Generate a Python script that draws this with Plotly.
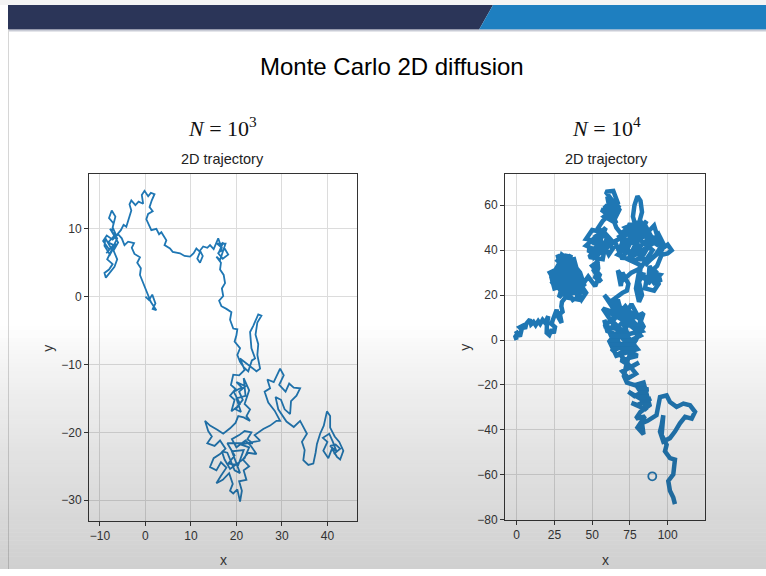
import plotly.graph_objects as go

W, H = 766, 576

# ---------------- data ----------------
walk_1e3 = [
    (0, 0), (0.8, -0.5), (1.5, 0.3), (2.2, -1.0), (1.6, -1.8), (2.4, -2.0), (1.2, -0.8), (0.3, 0.8),
    (-0.5, 2.0), (-1.2, 3.2), (-1.0, 4.2), (-1.8, 5.0), (-1.2, 5.8), (-2.4, 6.3), (-3.0, 7.2), (-2.5, 7.9),
    (-3.8, 8.1), (-4.6, 7.6), (-5.2, 8.6),
    (-6.0, 9.2), (-7.2, 8.4), (-8.5, 9.0), (-9.3, 8.2), (-8.0, 7.0), (-6.5, 7.8), (-7.8, 6.2), (-9.0, 7.5),
    (-8.8, 8.6), (-7.6, 7.2), (-8.6, 6.4), (-7.0, 7.6), (-8.2, 8.0), (-6.8, 9.0), (-7.8, 10.0), (-6.2, 8.6),
    (-8.4, 5.5), (-7.2, 4.8), (-8.0, 4.0), (-9.0, 3.5), (-8.7, 2.8), (-7.8, 3.6), (-6.8, 4.4), (-6.2, 5.5),
    (-7.0, 6.8), (-6.0, 8.0), (-7.4, 9.6), (-7.0, 10.8), (-8.0, 11.6), (-7.4, 12.7), (-6.6, 11.8), (-7.2, 10.2),
    (-6.4, 9.0), (-5.4, 9.8), (-4.8, 10.6), (-4.2, 10.3),
    (-3.6, 11.6), (-3.1, 12.7), (-3.5, 13.6), (-3.1, 14.2), (-2.2, 13.5), (-1.5, 14.0), (-0.5, 13.7),
    (-0.8, 15.0), (-0.2, 15.6), (0.6, 14.8), (1.2, 15.3), (2.0, 15.1), (1.4, 14.2), (0.9, 13.2), (1.6, 12.6),
    (0.6, 12.2), (0.2, 11.4), (1.0, 10.4), (1.3, 9.8), (2.4, 10.0), (3.0, 9.2), (3.5, 9.5), (4.6, 8.3),
    (4.2, 7.6), (5.4, 7.1), (6.0, 6.6), (7.6, 6.4), (8.6, 6.0), (9.8, 5.9), (10.6, 6.4), (11.2, 7.1),
    (12.0, 6.6), (11.4, 5.6), (12.0, 5.0), (12.6, 6.0), (12.0, 6.8), (12.7, 7.4), (13.6, 7.2), (14.2, 7.6),
    (15.0, 7.0), (16.0, 8.6), (16.5, 7.6), (17.1, 8.0), (16.2, 6.6), (17.5, 7.0), (18.2, 6.2), (17.0, 5.6),
    (16.0, 6.4), (16.8, 7.2), (15.8, 7.8), (17.6, 7.8), (16.4, 5.4),
    (15.6, 5.9), (16.6, 5.0), (16.4, 4.0), (17.2, 3.2), (17.5, 2.0), (16.8, 1.2), (17.1, 0.1),
    (16.2, -0.6), (16.7, -1.4), (17.8, -1.8), (18.9, -2.3), (18.6, -3.4), (19.3, -4.7), (20.2, -4.8),
    (20.0, -5.7), (19.6, -6.6), (20.8, -7.6), (20.2, -8.6), (20.8, -9.6), (21.6, -10.4), (22.6, -11.0),
    (23.4, -9.4), (24.1, -9.1), (23.3, -7.6), (23.0, -5.2), (23.7, -4.3), (24.4, -3.2), (24.8, -2.6),
    (25.5, -2.8), (24.6, -3.8), (24.2, -5.6), (24.8, -7.0), (24.6, -8.6), (25.2, -10.6), (24.4, -11.0),
    (22.8, -10.2), (20.8, -9.1), (21.8, -10.8), (20.6, -11.6), (19.3, -11.5), (18.8, -13.0), (19.8, -13.6),
    (18.6, -14.6), (19.6, -15.2), (18.9, -16.9), (20.2, -16.2), (21.4, -15.2), (20.6, -14.0), (22.0, -13.2),
    (20.0, -12.6), (21.2, -13.4), (19.4, -14.0), (20.8, -15.8), (19.8, -16.6), (21.0, -17.0), (20.0, -15.0),
    (22.0, -14.6),
    (21.6, -12.0), (22.8, -13.8), (21.8, -15.8), (23.0, -16.6), (22.2, -17.6), (23.0, -18.3), (21.6, -17.8),
    (20.4, -17.6),
    (19.8, -18.6), (18.6, -19.4), (17.1, -20.2), (15.8, -19.6), (14.2, -19.0), (13.1, -18.3), (13.8, -19.8),
    (14.6, -20.6), (13.6, -21.6), (15.2, -22.0), (16.4, -21.2), (17.6, -22.4), (16.4, -23.2), (15.0, -23.8),
    (14.2, -25.1), (15.6, -25.6), (16.6, -24.4), (17.8, -25.2), (16.6, -26.4), (15.6, -27.5), (17.0, -27.0),
    (18.4, -26.0), (19.2, -27.6), (18.6, -28.6), (19.3, -29.0), (20.2, -28.4), (20.8, -30.2), (21.2, -28.6),
    (20.6, -27.2), (22.2, -27.0), (21.6, -25.6), (22.8, -25.0), (21.4, -24.0), (22.6, -23.0), (24.4, -23.2),
    (23.2, -22.0), (22.0, -21.2), (20.0, -22.2), (19.0, -21.0), (20.6, -20.4), (21.8, -19.8), (23.3, -20.0),
    (22.4, -21.0), (23.6, -21.6),
    (18.0, -21.6), (19.6, -23.4), (18.2, -24.6), (20.4, -24.8), (21.6, -22.6), (19.0, -22.8), (20.8, -26.0),
    (19.6, -25.6), (18.0, -23.0), (16.8, -22.8), (17.4, -24.0), (18.6, -25.4), (21.8, -23.8), (22.8, -22.2),
    (21.0, -21.8),
    (25.2, -21.2), (24.0, -20.4), (25.9, -19.5), (27.4, -19.0), (28.8, -18.3),
    (29.6, -18.3), (28.4, -16.8), (27.0, -15.6), (26.2, -14.0), (27.4, -13.5), (26.8, -12.2), (28.2, -12.6),
    (29.0, -11.4), (29.6, -10.6), (30.4, -11.6), (29.4, -13.0), (30.8, -14.0), (31.6, -12.8), (32.6, -13.4),
    (34.0, -13.5), (33.2, -14.6), (32.0, -15.4), (31.8, -17.3), (30.6, -16.6), (29.8, -15.2), (28.6, -14.8),
    (29.2, -16.6), (31.0, -18.4), (32.6, -19.2), (34.0, -18.3), (35.5, -20.2), (34.4, -21.4), (35.0, -22.6),
    (34.7, -24.1), (35.8, -24.8), (36.9, -24.6), (37.4, -23.0), (37.7, -21.7), (38.4, -20.2), (39.2, -19.0),
    (39.9, -16.9), (40.6, -17.6), (40.6, -19.3), (41.6, -20.6), (42.6, -21.4), (43.5, -22.7), (42.8, -24.0),
    (42.1, -23.6), (41.0, -22.4), (40.2, -23.8), (39.1, -22.7), (40.0, -21.4), (39.0, -20.8), (40.4, -20.2),
    (41.2, -21.4), (42.0, -22.8), (40.6, -22.0), (41.8, -21.8), (42.8, -22.4), (41.4, -23.2),
]

walk_1e4 = [
    (0, 0), (-0.8, 1.5), (0.5, 2.8), (-0.5, 4.0), (1.0, 3.2), (2.2, 1.6), (3.3, 4.7), (2.0, 5.6), (4.2, 6.4),
    (5.6, 5.0), (6.4, 7.2), (8.8, 9.1), (9.6, 7.0), (11.2, 8.0), (12.6, 6.6), (14.3, 8.4), (15.6, 7.2),
    (17.2, 9.0), (19.0, 7.6), (20.9, 10.6), (20.0, 6.0), (19.9, 3.2), (21.6, 2.2), (23.2, 4.7), (24.6, 3.0),
    (25.4, 5.8), (23.0, 7.2), (24.6, 9.6), (26.5, 13.5), (27.6, 10.2), (29.8, 7.6), (28.6, 11.6), (30.4, 12.6),
    (29.6, 15.0),
    # left blob
    (30, 17), (36, 22), (27, 25), (33, 19), (41, 18), (38, 24), (44, 21), (35, 28), (24, 27), (29, 22),
    (22, 30), (31, 33), (26, 36), (34, 31), (39, 27), (45, 24), (42, 30), (36, 35), (30, 38), (27, 31),
    (37, 29), (32, 24), (40, 22), (43, 18), (46, 21), (41, 26), (35, 25), (25, 23), (23, 28), (28, 34),
    (33, 38), (35, 33), (40, 31), (38, 36), (32, 35), (29, 29), (34, 21), (38, 17),
    (24, 31), (37, 20), (28, 36), (43, 27), (26, 29), (39, 33), (31, 20), (45, 22), (30, 26), (36, 38),
    (23, 25), (41, 29), (33, 30), (28, 19), (38, 26), (27, 38), (31, 28), (36, 31), (44, 25),
    # middle column
    (47.4, 28.2), (52, 24), (55, 29), (50, 33), (54, 35), (51, 31), (56, 26), (52, 28), (54, 32),
    (53, 38), (47, 40), (58, 42), (61, 38), (64, 41), (55, 44), (46, 45), (50, 49), (58, 48), (62, 45),
    (53, 41), (48, 37), (57, 36), (60, 47), (49, 44), (60, 40), (52, 47), (56, 39), (46, 42), (59, 50),
    (50, 36), (63, 43), (54, 50),
    # top blob
    (57, 53), (63, 57), (58, 60), (65, 54), (68, 58), (62, 63), (59, 66), (64, 66.4), (67, 61), (60, 56),
    (56, 58), (66, 57), (60, 64), (63, 53), (68, 60), (58, 55), (66, 52), (61, 59),
    # upper right blob
    (66, 50), (72, 45), (68, 40), (75, 52), (80, 44), (86, 50), (90, 45), (84, 38), (78, 35), (73, 40),
    (70, 48), (82, 53), (88, 42), (94, 47), (97, 43), (92, 38), (86, 34), (80, 40), (76, 48), (65, 44),
    (70, 36), (75, 43), (84, 46), (91, 51), (96, 40), (89, 36), (82, 36), (78, 50),
    (68, 46), (76, 38), (87, 45), (94, 42), (79, 52), (72, 50), (90, 40), (83, 33), (67, 38), (81, 47),
    (95, 45), (74, 36), (86, 53), (70, 42), (78, 46),
    (79, 50), (77, 55), (78, 60), (80, 64), (82, 62), (83, 57), (81, 52), (82, 48),
    (92, 44), (97, 41), (100, 42.5), (102.6, 40), (100, 38.6), (96, 38),
    # middle right
    (93, 33), (88, 30), (95, 29), (90, 25), (96, 27), (86, 27), (85, 23), (91, 22), (94, 25), (88, 33),
    (87, 25), (93, 31), (84, 27),
    (84, 30), (81, 26), (83, 20), (81, 17), (79, 23), (82, 34), (80, 20), (82, 32),
    (76, 30), (71, 27), (67, 31), (69, 24), (70, 30), (74, 25), (73, 22),
    # lower blob
    (70, 21), (62, 17), (58, 20), (66, 12), (57, 14), (63, 8), (72, 15), (78, 10), (84, 12), (80, 4),
    (74, 7), (68, 2), (60, 4), (58, 9), (65, -2), (72, -5), (78, -1), (84, 6), (76, 16), (70, 9), (62, 12),
    (67, 18), (74, 1), (80, -4), (66, -7), (61, 0), (70, -2), (82, 2),
    (60, 18), (70, 14), (58, 6), (66, 5), (76, 12), (82, 9), (79, 0), (63, -5), (70, 4), (61, 10),
    (75, -4), (68, 15), (83, 4), (64, 1),
    # descending part
    (72, -4), (80, -7), (69, -9), (76, -12), (81, -10), (70, -14), (74, -17), (79, -15), (68, -6), (77, -3),
    (73, -10), (71, -16),
    (73, -19), (82, -21), (87, -22), (78, -25), (74, -23), (84, -27), (89, -26), (80, -29), (76, -28),
    (86, -31), (83, -24), (79, -20), (84, -19), (88, -29),
    (82, -32), (79, -35), (85, -34), (80, -39), (84, -42), (83, -37),
    (86.7, -36), (92.6, -33.5), (94.9, -25.4), (99.3, -24.7), (101.5, -27.6), (105.9, -29.8), (110.4, -28.3),
    (114.8, -29.1), (118.1, -32.0), (115.9, -35.0), (111.5, -34.2), (108.1, -37.1), (104.8, -40.8),
    (101.5, -43.7), (97.1, -45.2), (94.9, -40.8), (96.0, -37.9), (97.1, -33.5), (96.0, -42.3), (99.3, -46.7),
    (98.2, -49.6), (101.5, -52.6), (104.8, -53.3), (103.7, -59.9), (100.4, -62.8), (101.5, -67.2),
    (103.7, -70.2), (104.8, -73.1),
]

marker_1e4 = (89.8, -60.7)

ticks_left_x = [-10, 0, 10, 20, 30, 40]
ticks_left_y = [-30, -20, -10, 0, 10]
ticks_right_x = [0, 25, 50, 75, 100]
ticks_right_y = [-80, -60, -40, -20, 0, 20, 40, 60]

panel_titles = ["<i>N</i> = 10<sup>3</sup>", "<i>N</i> = 10<sup>4</sup>"]
sub_title = "2D trajectory"
main_title = "Monte Carlo 2D diffusion"

# ---------------- figure ----------------
BLUE = "#1f77b4"
SANS = "Liberation Sans, Arial, sans-serif"


def px(x):
    return x / W


def py(y):
    return 1 - y / H


fig = go.Figure()
x3, y3 = zip(*walk_1e3)
x4, y4 = zip(*walk_1e4)
fig.add_trace(go.Scatter(x=x3, y=y3, mode="lines", line=dict(color=BLUE, width=1.8),
                         xaxis="x", yaxis="y", showlegend=False, hoverinfo="skip"))
fig.add_trace(go.Scatter(x=x4, y=y4, mode="lines", line=dict(color=BLUE, width=4.5),
                         xaxis="x2", yaxis="y2", showlegend=False, hoverinfo="skip"))
fig.add_trace(go.Scatter(x=[marker_1e4[0]], y=[marker_1e4[1]], mode="markers",
                         marker=dict(symbol="circle-open", size=8, color=BLUE, line=dict(width=1.8)),
                         xaxis="x2", yaxis="y2", showlegend=False, hoverinfo="skip"))

ax_common = dict(showline=True, mirror=True, linecolor="#333", linewidth=1, showgrid=True,
                 gridcolor="#dcdcdc", gridwidth=1, zeroline=False, ticks="outside", ticklen=4,
                 tickcolor="#333", tickfont=dict(family=SANS, size=12, color="#333"))

fig.update_layout(
    width=W, height=H, margin=dict(l=0, r=0, t=0, b=0),
    paper_bgcolor="white", plot_bgcolor="white", hovermode=False,
    xaxis=dict(domain=[px(89), px(357)], range=[-12.4, 46.5], tickvals=ticks_left_x, anchor="y", **ax_common),
    yaxis=dict(domain=[py(527), py(176)], range=[-33.0, 18.1], tickvals=ticks_left_y, anchor="x", **ax_common),
    xaxis2=dict(domain=[px(505), px(705)], range=[-7.7, 124.7], tickvals=ticks_right_x, anchor="y2", **ax_common),
    yaxis2=dict(domain=[py(526), py(176)], range=[-80, 74], tickvals=ticks_right_y, anchor="x2", **ax_common),
)

shapes = []
shapes.append(dict(type="rect", xref="paper", yref="paper", x0=0, x1=1, y0=py(5), y1=1,
                   fillcolor="#f4f4f4", line_width=0, layer="below"))
shapes.append(dict(type="path", xref="paper", yref="paper",
                   path=f"M {px(8)} {py(5)} L {px(493)} {py(5)} L {px(479)} {py(30)} L {px(8)} {py(30)} Z",
                   fillcolor="#2b3558", line_width=0, layer="below"))
shapes.append(dict(type="path", xref="paper", yref="paper",
                   path=f"M {px(493)} {py(5)} L {px(766)} {py(5)} L {px(766)} {py(30)} L {px(479)} {py(30)} Z",
                   fillcolor="#1e7fc0", line_width=0, layer="below"))
shapes.append(dict(type="line", xref="paper", yref="paper", x0=px(8), x1=1, y0=py(31), y1=py(31),
                   line=dict(color="#c9ccd6", width=2), layer="below"))
shapes.append(dict(type="line", xref="paper", yref="paper", x0=px(8.5), x1=px(8.5), y0=0, y1=py(30),
                   line=dict(color="#d6d6d6", width=1), layer="below"))
# screen vignette at the bottom
n = 60
y_start, y_end = 330, 576
for i in range(n):
    t = (i + 0.5) / n
    a = 0.22 * (t ** 0.8)
    ya = y_start + (y_end - y_start) * i / n
    yb = y_start + (y_end - y_start) * (i + 1) / n
    shapes.append(dict(type="rect", xref="paper", yref="paper", x0=0, x1=1, y0=py(yb), y1=py(ya),
                       fillcolor=f"rgba(40,40,40,{a:.4f})", line_width=0, layer="above"))
fig.update_layout(shapes=shapes)

ann = []
ann.append(dict(text=main_title, x=px(392), y=py(67), xref="paper", yref="paper", showarrow=False,
                font=dict(family=SANS, size=24, color="#000"), xanchor="center", yanchor="middle"))
for cx, t in zip([222, 606], panel_titles):
    ann.append(dict(text=t, x=px(cx), y=py(129), xref="paper", yref="paper", showarrow=False,
                    font=dict(family="Liberation Serif, DejaVu Serif, serif", size=22, color="#111"),
                    xanchor="center", yanchor="middle"))
    ann.append(dict(text=sub_title, x=px(cx), y=py(161), xref="paper", yref="paper", showarrow=False,
                    font=dict(family=SANS, size=14.5, color="#222"), xanchor="center", yanchor="middle"))
for cx in [223, 605]:
    ann.append(dict(text="x", x=px(cx), y=py(567), xref="paper", yref="paper", showarrow=False,
                    font=dict(family=SANS, size=14, color="#333"), xanchor="center", yanchor="middle"))
for cx in [48, 465]:
    ann.append(dict(text="y", x=px(cx), y=py(352), xref="paper", yref="paper", showarrow=False, textangle=-90,
                    font=dict(family=SANS, size=14, color="#333"), xanchor="center", yanchor="middle"))
fig.update_layout(annotations=ann)

fig.write_html("out.html", config={"displayModeBar": False, "staticPlot": True},
               post_script="document.body.style.margin='0';document.body.style.overflow='hidden';")
